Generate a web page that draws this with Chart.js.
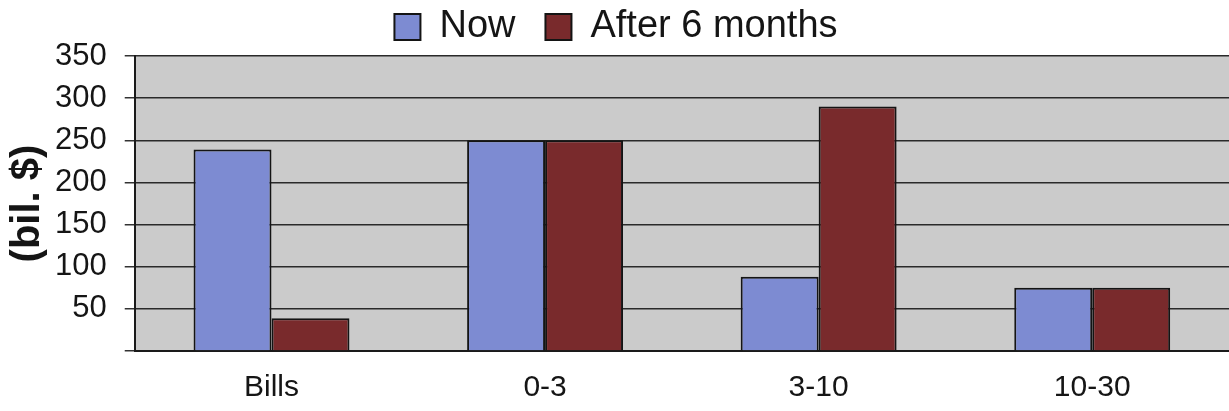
<!DOCTYPE html>
<html lang="en">
<head>
    <meta charset="UTF-8">
    <title>Holdings by maturity</title>
    <script src="https://cdn.jsdelivr.net/npm/chart.js"></script>
    <style>
        html, body { margin: 0; padding: 0; background: #fff; }
        .wrap { width: 1229px; height: 411px; }
    </style>
</head>
<body>
    <div class="wrap">
        <canvas id="maturity-chart" width="1229" height="411"></canvas>
    </div>

    <script>
        // Maturity buckets and amounts (bil. $)
        const buckets = ['Bills', '0-3', '3-10', '10-30'];
        const nowValues = [239, 250, 88, 75];
        const laterValues = [39, 250, 290, 75];
        const seriesNames = ['Now', 'After 6 months'];
        const yTicks = [0, 50, 100, 150, 200, 250, 300, 350];

        // grey plot background behind the bars
        const plotBackground = {
            id: 'plotBackground',
            beforeDraw(chart) {
                const { ctx, chartArea: a } = chart;
                ctx.save();
                ctx.fillStyle = '#cbcbcb';
                ctx.fillRect(a.left, a.top, a.right - a.left, a.bottom - a.top);
                ctx.restore();
            }
        };

        new Chart(document.getElementById('maturity-chart'), {
            type: 'bar',
            data: {
                labels: buckets,
                datasets: [
                    {
                        label: seriesNames[0],
                        data: nowValues,
                        backgroundColor: '#7d8bd2',
                        borderColor: '#141414',
                        borderWidth: 2
                    },
                    {
                        label: seriesNames[1],
                        data: laterValues,
                        backgroundColor: '#792a2c',
                        borderColor: '#141414',
                        borderWidth: 2
                    }
                ]
            },
            options: {
                responsive: false,
                animation: false,
                layout: { padding: { top: -22, left: 3, right: 0, bottom: -6 } },
                datasets: { bar: { categoryPercentage: 0.57, barPercentage: 1.0 } },
                plugins: {
                    tooltip: { enabled: false },
                    legend: {
                        position: 'top',
                        maxHeight: 78,
                        labels: {
                            color: '#151515',
                            font: { family: 'Arial, "Liberation Sans"', size: 38 },
                            boxWidth: 26,
                            boxHeight: 26,
                            padding: 30
                        }
                    }
                },
                scales: {
                    x: {
                        grid: { display: false },
                        border: { display: true, color: '#1a1a1a', width: 2 },
                        ticks: {
                            color: '#151515',
                            padding: 11,
                            font: { family: 'Arial, "Liberation Sans"', size: 30 }
                        }
                    },
                    y: {
                        min: 0,
                        max: 350,
                        afterBuildTicks(scale) {
                            scale.ticks = yTicks.map(v => ({ value: v }));
                        },
                        grid: {
                            color: '#2a2a2a',
                            lineWidth: 1.5,
                            tickLength: 10,
                            tickColor: '#333'
                        },
                        border: { display: true, color: '#1a1a1a', width: 2 },
                        ticks: {
                            autoSkip: false,
                            color: '#151515',
                            padding: 18,
                            font: { family: 'Arial, "Liberation Sans"', size: 31 },
                            callback: v => (v === 0 ? '' : v)
                        },
                        title: {
                            display: true,
                            text: '(bil. $)',
                            color: '#151515',
                            font: { family: 'Arial, "Liberation Sans"', size: 40, weight: 'bold', lineHeight: 0.45 },
                            padding: { top: 16, bottom: 0 }
                        }
                    }
                }
            },
            plugins: [plotBackground]
        });
    </script>
</body>
</html>
